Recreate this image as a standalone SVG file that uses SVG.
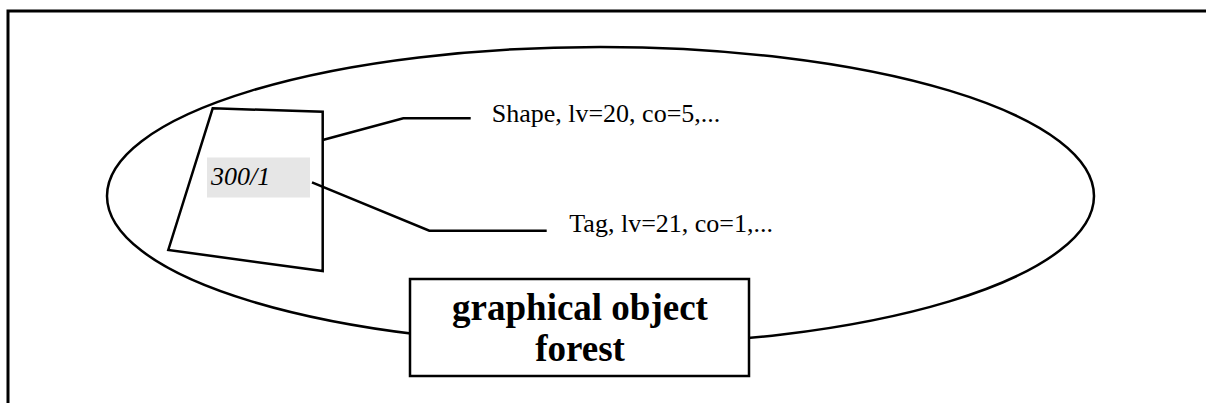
<svg xmlns="http://www.w3.org/2000/svg" width="1206" height="403" viewBox="0 0 1206 403">
<style>
.s{fill:none;stroke:#000;stroke-width:2.5}
.w{fill:#fff;stroke:#000;stroke-width:2.5}
.t{font-family:"Liberation Serif","Times New Roman",serif;font-size:26px;fill:#000}
.b{font-family:"Liberation Serif","Times New Roman",serif;font-size:37px;font-weight:bold;fill:#000;text-anchor:middle}
</style>
<rect width="1206" height="403" fill="#fff"/>
<g id="frame">
<path d="M8 403 V11 H1206" fill="none" stroke="#000" stroke-width="3"/>
</g>
<g id="forest">
<ellipse class="w" cx="600.5" cy="196" rx="493.5" ry="149"/>
</g>
<g id="shape">
<polygon class="w" points="212.7,108.3 322.7,111.7 322.7,271 168.3,250"/>
</g>
<g id="tag">
<rect x="207" y="157.5" width="103" height="40" fill="#e6e6e6"/>
<text class="t" x="211" y="185" font-style="italic" font-size="25">300/1</text>
</g>
<g id="connectors">
<polyline class="s" points="322.7,140 403.3,118.3 470.7,118.3"/>
<polyline class="s" points="312,182.3 429.3,230.7 546.7,230.7"/>
</g>
<g id="label-shape">
<text class="t" x="491.7" y="122">Shape, lv=20, co=5,...</text>
</g>
<g id="label-tag">
<text class="t" x="569.3" y="232">Tag, lv=21, co=1,...</text>
</g>
<g id="title">
<rect class="w" x="410" y="279" width="339" height="97"/>
<text class="b" x="580" y="320">graphical object</text>
<text class="b" x="580" y="361">forest</text>
</g>
</svg>
